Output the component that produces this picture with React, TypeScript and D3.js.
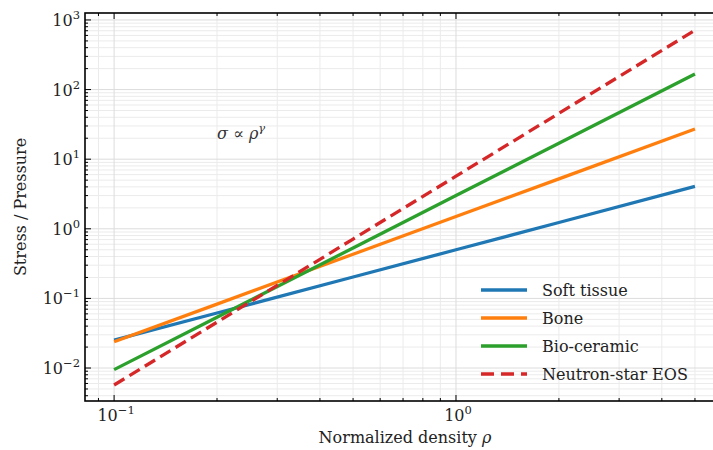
import React, { useEffect, useRef } from "react";
import * as d3 from "d3";

// sample densities and values
const rho = [0.1, 0.2, 0.5, 1, 2, 5];
const softTissue = [0.0251, 0.0617, 0.203, 0.5, 1.231, 4.06];
const bone = [0.0238, 0.0829, 0.431, 1.5, 5.22, 27.2];
const bioCeramic = [0.00949, 0.0537, 0.53, 3, 16.97, 167.7];
const neutronStar = [0.0057, 0.0456, 0.7125, 5.7, 45.6, 712.5];

const seriesNames = ["Soft tissue", "Bone", "Bio-ceramic", "Neutron-star EOS"];
const seriesColors = ["#1f77b4", "#ff7f0e", "#2ca02c", "#d62728"];

const App = () => {
  const svgRef = useRef<SVGSVGElement | null>(null);

  useEffect(() => {
    const svg = d3.select(svgRef.current);
    svg.selectAll("*").remove();

    const width = 713;
    const height = 450;
    const m = { left: 85, right: 724, top: 13, bottom: 401 };
    const font = "DejaVu Serif";

    const x = d3.scaleLog().domain([0.0822, 6.08]).range([m.left, m.right]);
    const y = d3.scaleLog().domain([0.00336, 1259]).range([m.bottom, m.top]);

    svg.attr("width", width).attr("height", height);

    const clip = svg.append("clipPath").attr("id", "plotclip");
    clip.append("rect").attr("x", m.left).attr("y", m.top)
      .attr("width", m.right - m.left).attr("height", m.bottom - m.top);

    // minor / major tick positions
    const xMinor: number[] = [];
    const yMinor: number[] = [];
    for (let e = -2; e <= 0; e++) for (let k = 2; k <= 9; k++) {
      const v = k * Math.pow(10, e);
      if (v > 0.0822 && v < 6.08) xMinor.push(v);
    }
    for (let e = -3; e <= 3; e++) for (let k = 2; k <= 9; k++) {
      const v = k * Math.pow(10, e);
      if (v > 0.00336 && v < 1259) yMinor.push(v);
    }
    const xMajor = [0.1, 1];
    const yMajor = [0.01, 0.1, 1, 10, 100, 1000];

    // grid
    const grid = svg.append("g");
    grid.selectAll(".gxm").data(xMinor).enter().append("line")
      .attr("x1", d => x(d)).attr("x2", d => x(d))
      .attr("y1", m.top).attr("y2", m.bottom)
      .attr("stroke", "#ebebeb").attr("stroke-width", 1);
    grid.selectAll(".gym").data(yMinor).enter().append("line")
      .attr("y1", d => y(d)).attr("y2", d => y(d))
      .attr("x1", m.left).attr("x2", m.right)
      .attr("stroke", "#ebebeb").attr("stroke-width", 1);
    grid.selectAll(".gxM").data(xMajor).enter().append("line")
      .attr("x1", d => x(d)).attr("x2", d => x(d))
      .attr("y1", m.top).attr("y2", m.bottom)
      .attr("stroke", "#dcdcdc").attr("stroke-width", 1);
    grid.selectAll(".gyM").data(yMajor).enter().append("line")
      .attr("y1", d => y(d)).attr("y2", d => y(d))
      .attr("x1", m.left).attr("x2", m.right)
      .attr("stroke", "#dcdcdc").attr("stroke-width", 1);

    // lines
    const allSeries = [softTissue, bone, bioCeramic, neutronStar];
    const line = d3.line<number>()
      .x((_, i) => x(rho[i]))
      .y(d => y(d));
    const plot = svg.append("g").attr("clip-path", "url(#plotclip)");
    allSeries.forEach((s, i) => {
      plot.append("path")
        .attr("d", line(s))
        .attr("fill", "none")
        .attr("stroke", seriesColors[i])
        .attr("stroke-width", 3.3)
        .attr("stroke-dasharray", i === 3 ? "12,6" : null);
    });

    // ticks (inward, all sides)
    const ticks = svg.append("g").attr("stroke", "#000");
    xMajor.forEach(v => {
      ticks.append("line").attr("x1", x(v)).attr("x2", x(v)).attr("y1", m.bottom).attr("y2", m.bottom - 6);
      ticks.append("line").attr("x1", x(v)).attr("x2", x(v)).attr("y1", m.top).attr("y2", m.top + 6);
    });
    xMinor.forEach(v => {
      ticks.append("line").attr("x1", x(v)).attr("x2", x(v)).attr("y1", m.bottom).attr("y2", m.bottom - 3);
      ticks.append("line").attr("x1", x(v)).attr("x2", x(v)).attr("y1", m.top).attr("y2", m.top + 3);
    });
    yMajor.forEach(v => {
      ticks.append("line").attr("y1", y(v)).attr("y2", y(v)).attr("x1", m.left).attr("x2", m.left + 6);
    });
    yMinor.forEach(v => {
      ticks.append("line").attr("y1", y(v)).attr("y2", y(v)).attr("x1", m.left).attr("x2", m.left + 3);
    });

    // spines
    svg.append("rect")
      .attr("x", m.left).attr("y", m.top)
      .attr("width", m.right - m.left).attr("height", m.bottom - m.top)
      .attr("fill", "none").attr("stroke", "#000").attr("stroke-width", 1.6);

    // tick labels
    const pow = (g: any, v: number) => {
      const e = Math.round(Math.log10(v));
      g.append("tspan").text("10");
      g.append("tspan").attr("dy", -7).attr("font-size", 11.5)
        .text(e < 0 ? "\u2212" + Math.abs(e) : String(e));
    };
    xMajor.forEach(v => {
      const t = svg.append("text")
        .attr("x", x(v) + 2).attr("y", m.bottom + 20)
        .attr("text-anchor", "middle")
        .attr("font-family", font).attr("font-size", 16).attr("fill", "#222");
      pow(t, v);
    });
    yMajor.forEach(v => {
      const t = svg.append("text")
        .attr("x", m.left - 5).attr("y", y(v) + 6)
        .attr("text-anchor", "end")
        .attr("font-family", font).attr("font-size", 16).attr("fill", "#222");
      pow(t, v);
    });

    // axis labels
    svg.append("text")
      .attr("x", 405).attr("y", 443)
      .attr("text-anchor", "middle")
      .attr("font-family", font).attr("font-size", 16).attr("fill", "#222")
      .text("Normalized density ")
      .append("tspan").attr("font-style", "italic").text("\u03c1");
    svg.append("text")
      .attr("transform", `translate(26,${(m.top + m.bottom) / 2}) rotate(-90)`)
      .attr("text-anchor", "middle")
      .attr("font-family", font).attr("font-size", 16).attr("fill", "#222")
      .text("Stress / Pressure");

    // annotation
    const ann = svg.append("text")
      .attr("x", 217).attr("y", 139)
      .attr("font-family", font).attr("font-size", 16).attr("fill", "#333");
    ann.append("tspan").attr("font-style", "italic").text("\u03c3");
    ann.append("tspan").text(" \u221d ");
    ann.append("tspan").attr("font-style", "italic").text("\u03c1");
    ann.append("tspan").attr("font-style", "italic").attr("dy", -7).attr("font-size", 11.5).text("\u03b3");

    // legend
    const legend = svg.append("g");
    seriesNames.forEach((name, i) => {
      const ly = 290 + i * 28;
      legend.append("line")
        .attr("x1", 481).attr("x2", 527).attr("y1", ly).attr("y2", ly)
        .attr("stroke", seriesColors[i]).attr("stroke-width", 3.3)
        .attr("stroke-dasharray", i === 3 ? "13,7" : null);
      legend.append("text")
        .attr("x", 542).attr("y", ly + 6)
        .attr("font-family", font).attr("font-size", 16).attr("fill", "#222")
        .text(name);
    });
  }, []);

  return <svg ref={svgRef} style={{ position: "absolute", left: 0, top: 0 }} />;
};

export default App;
